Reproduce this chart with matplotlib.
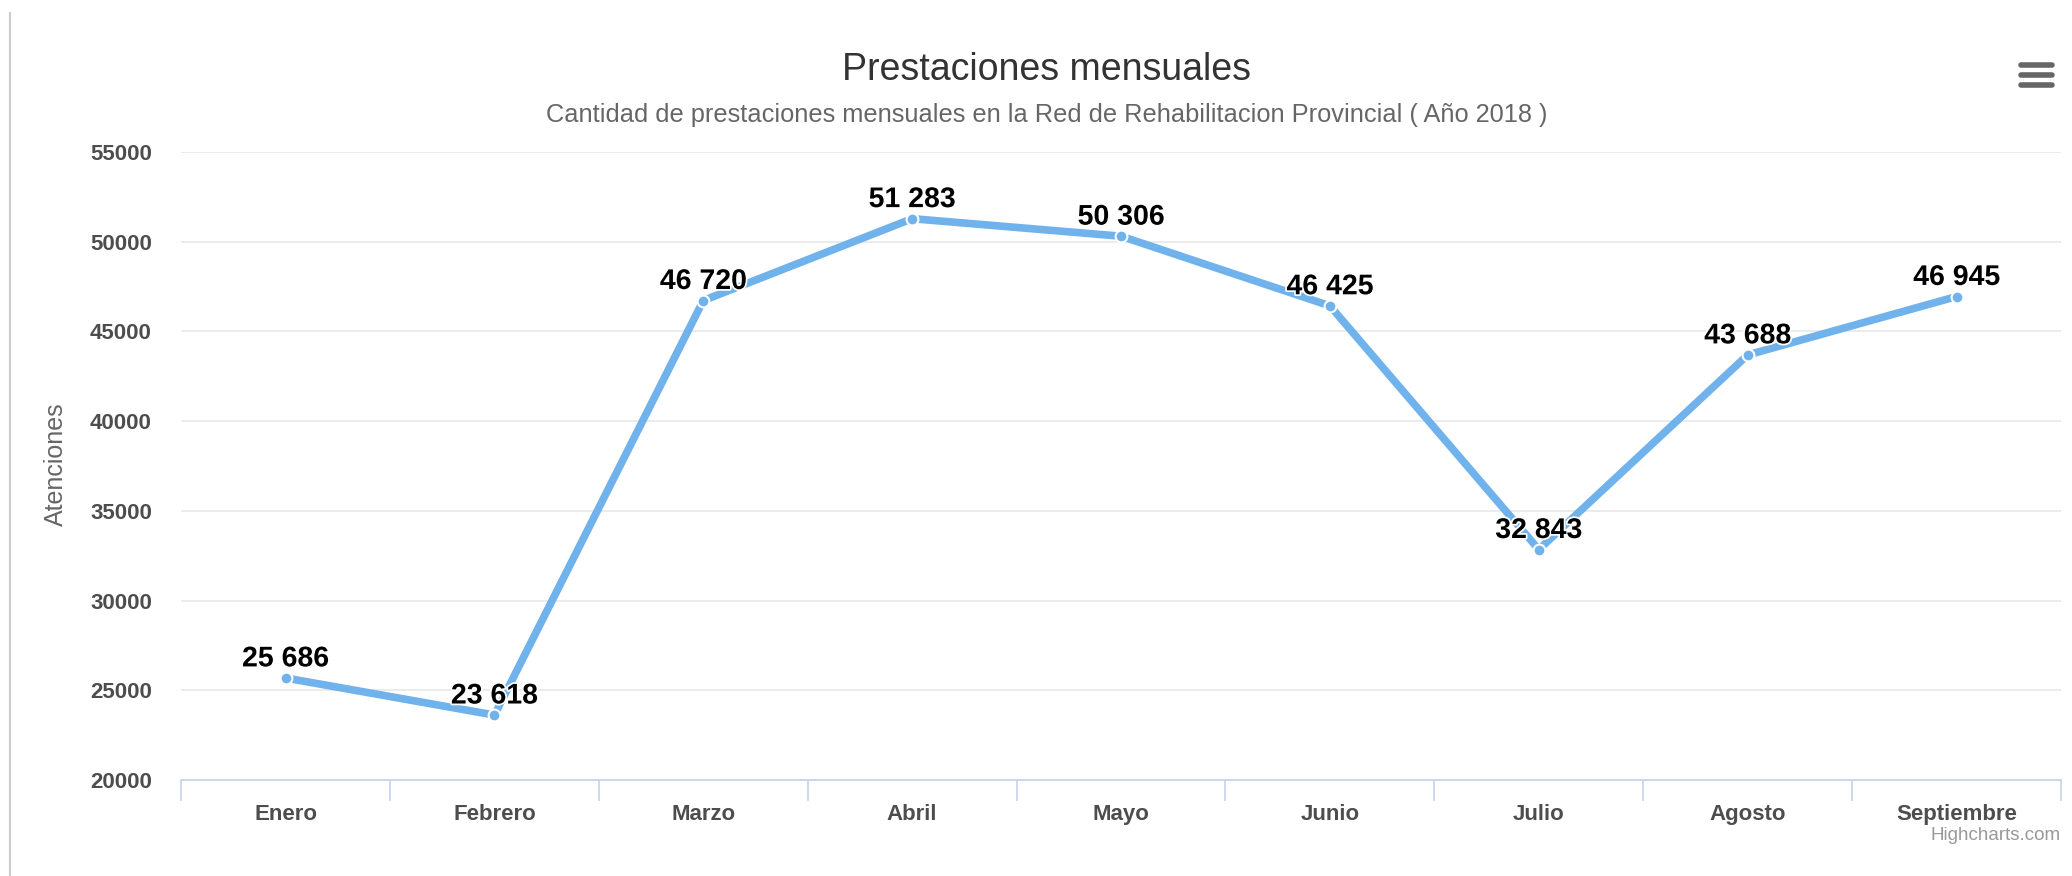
import matplotlib.pyplot as plt
import matplotlib.patheffects as pe
from matplotlib.lines import Line2D

plt.rcParams['font.family'] = ['Liberation Sans', 'DejaVu Sans']

# data
meses = ["Enero", "Febrero", "Marzo", "Abril", "Mayo", "Junio", "Julio", "Agosto", "Septiembre"]
prestaciones = [25686, 23618, 46720, 51283, 50306, 46425, 32843, 43688, 46945]
y_ticks = [20000, 25000, 30000, 35000, 40000, 45000, 50000, 55000]

line_color = "#70b2eb"

fig = plt.figure(figsize=(20.72, 8.76), dpi=100)
ax = fig.add_axes([0.0874, 0.1096, 0.9073, 0.7169])

x = list(range(len(meses)))
ax.plot(x, prestaciones, color=line_color, lw=5.5, marker="o", markersize=8.5,
        markerfacecolor=line_color, markeredgecolor="white", markeredgewidth=1.5,
        solid_capstyle="round", zorder=3)

# data labels with white outline like highcharts
for xi, v in zip(x, prestaciones):
    lbl = f"{v:,}".replace(",", " ")
    ax.annotate(lbl, (xi, v), xytext=(0, 4), textcoords="offset points",
                ha="center", va="bottom", fontsize=20.5, fontweight="bold",
                color="#000000", zorder=4,
                path_effects=[pe.withStroke(linewidth=2.5, foreground="white")])

ax.set_xlim(-0.5, len(meses) - 0.5)
ax.set_ylim(y_ticks[0], y_ticks[-1])
ax.set_yticks(y_ticks)
ax.set_yticklabels([str(t) for t in y_ticks], fontsize=16, fontweight="bold", color="#4d4d4d")
ax.tick_params(axis="y", length=0, pad=21)

# category boundaries as major ticks, labels on minor ticks
ax.set_xticks([i - 0.5 for i in range(len(meses) + 1)])
ax.set_xticklabels([])
ax.tick_params(axis="x", which="major", length=15, width=1.3, color="#ccd6eb")
ax.set_xticks(x, minor=True)
ax.set_xticklabels(meses, minor=True, fontsize=16, fontweight="bold", color="#4d4d4d")
ax.tick_params(axis="x", which="minor", length=0, pad=17)

ax.grid(axis="y", color="#e6e6e6", lw=1.1)
ax.set_axisbelow(True)
for s in ["top", "right", "left"]:
    ax.spines[s].set_visible(False)
ax.spines["bottom"].set_color("#ccd6eb")
ax.spines["bottom"].set_linewidth(1.5)

fig.text(0.027, 0.470, "Atenciones", rotation=90, ha="center", va="center",
         fontsize=18, color="#666666")
fig.text(0.505, 0.920, "Prestaciones mensuales", ha="center", va="center",
         fontsize=27, color="#333333")
fig.text(0.505, 0.869,
         "Cantidad de prestaciones mensuales en la Red de Rehabilitacion Provincial ( Año 2018 )",
         ha="center", va="center", fontsize=18.3, color="#666666")
fig.text(0.9947, 0.046, "Highcharts.com", ha="right", va="center", fontsize=13.5, color="#999999")

# left border of the container
fig.add_artist(Line2D([0.0048, 0.0048], [0.0, 0.985], color="#cccccc", lw=1.5))

# menu icon (hamburger)
for yy in [65, 75, 85]:
    yf = 1 - yy / 876
    fig.add_artist(Line2D([2021 / 2072, 2052 / 2072], [yf, yf], color="#666666",
                          lw=4, solid_capstyle="round"))

fig.savefig("out.png", dpi=100, facecolor="white")
